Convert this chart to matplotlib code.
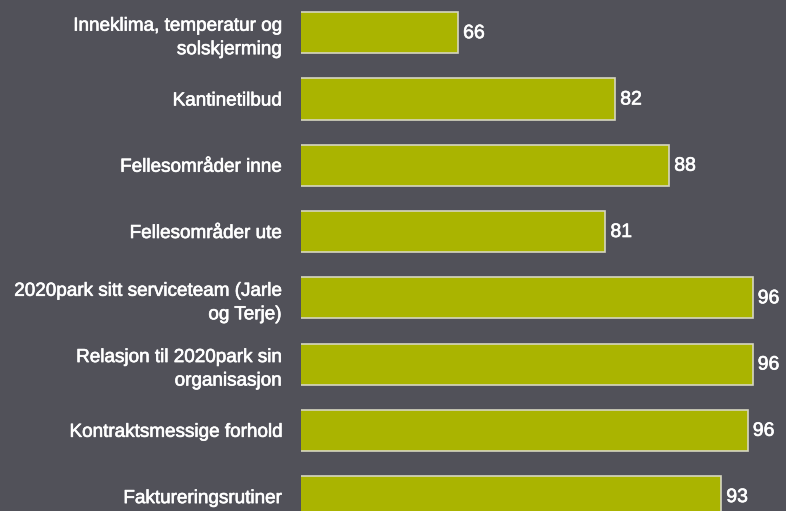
import matplotlib
matplotlib.use("Agg")
import matplotlib.pyplot as plt
import matplotlib.patheffects as pe

categories = [
    "Inneklima, temperatur og\nsolskjerming",
    "Kantinetilbud",
    "Fellesområder inne",
    "Fellesområder ute",
    "2020park sitt serviceteam (Jarle\nog Terje)",
    "Relasjon til 2020park sin\norganisasjon",
    "Kontraktsmessige forhold",
    "Faktureringsrutiner",
]
values = [66, 82, 87.5, 81, 96, 96, 95.5, 92.8]
value_labels = ["66", "82", "88", "81", "96", "96", "96", "93"]

BG = "#515159"
BAR = "#aab400"
EDGE = "#d6d6c0"

W, H = 786, 511
fig = plt.figure(figsize=(W / 100, H / 100), dpi=100, facecolor=BG)
left_px, right_px = 301, 786
ax = fig.add_axes([left_px / W, 0, (right_px - left_px) / W, 1])
ax.set_facecolor(BG)

ypos = list(range(len(categories)))
ax.barh(ypos, values, height=0.62, left=0, color=BAR, edgecolor=EDGE, linewidth=1.2)

px_per_unit = 9.82
xmin = 50
ax.set_xlim(xmin, xmin + (right_px - left_px) / px_per_unit)
pitch = 66.27
c0 = 32.7
ax.set_ylim((H - c0) / pitch, -c0 / pitch)

effects = [pe.withStroke(linewidth=0.45, foreground="white")]
for y, v, lab in zip(ypos, values, value_labels):
    ax.annotate(lab, (v, y), xytext=(5, -1), textcoords="offset pixels",
                ha="left", va="center", color="white", fontsize=14,
                family="Liberation Sans", path_effects=effects)

ax.set_yticks(ypos)
ax.set_yticklabels(categories, fontsize=13.6, color="white", family="Liberation Sans",
                   linespacing=1.5)
for t in ax.get_yticklabels():
    t.set_path_effects(effects)
ax.tick_params(axis="y", length=0, pad=20 * 72 / 100)
ax.set_xticks([])
for s in ax.spines.values():
    s.set_visible(False)

fig.savefig("out.png", dpi=100, facecolor=BG)
